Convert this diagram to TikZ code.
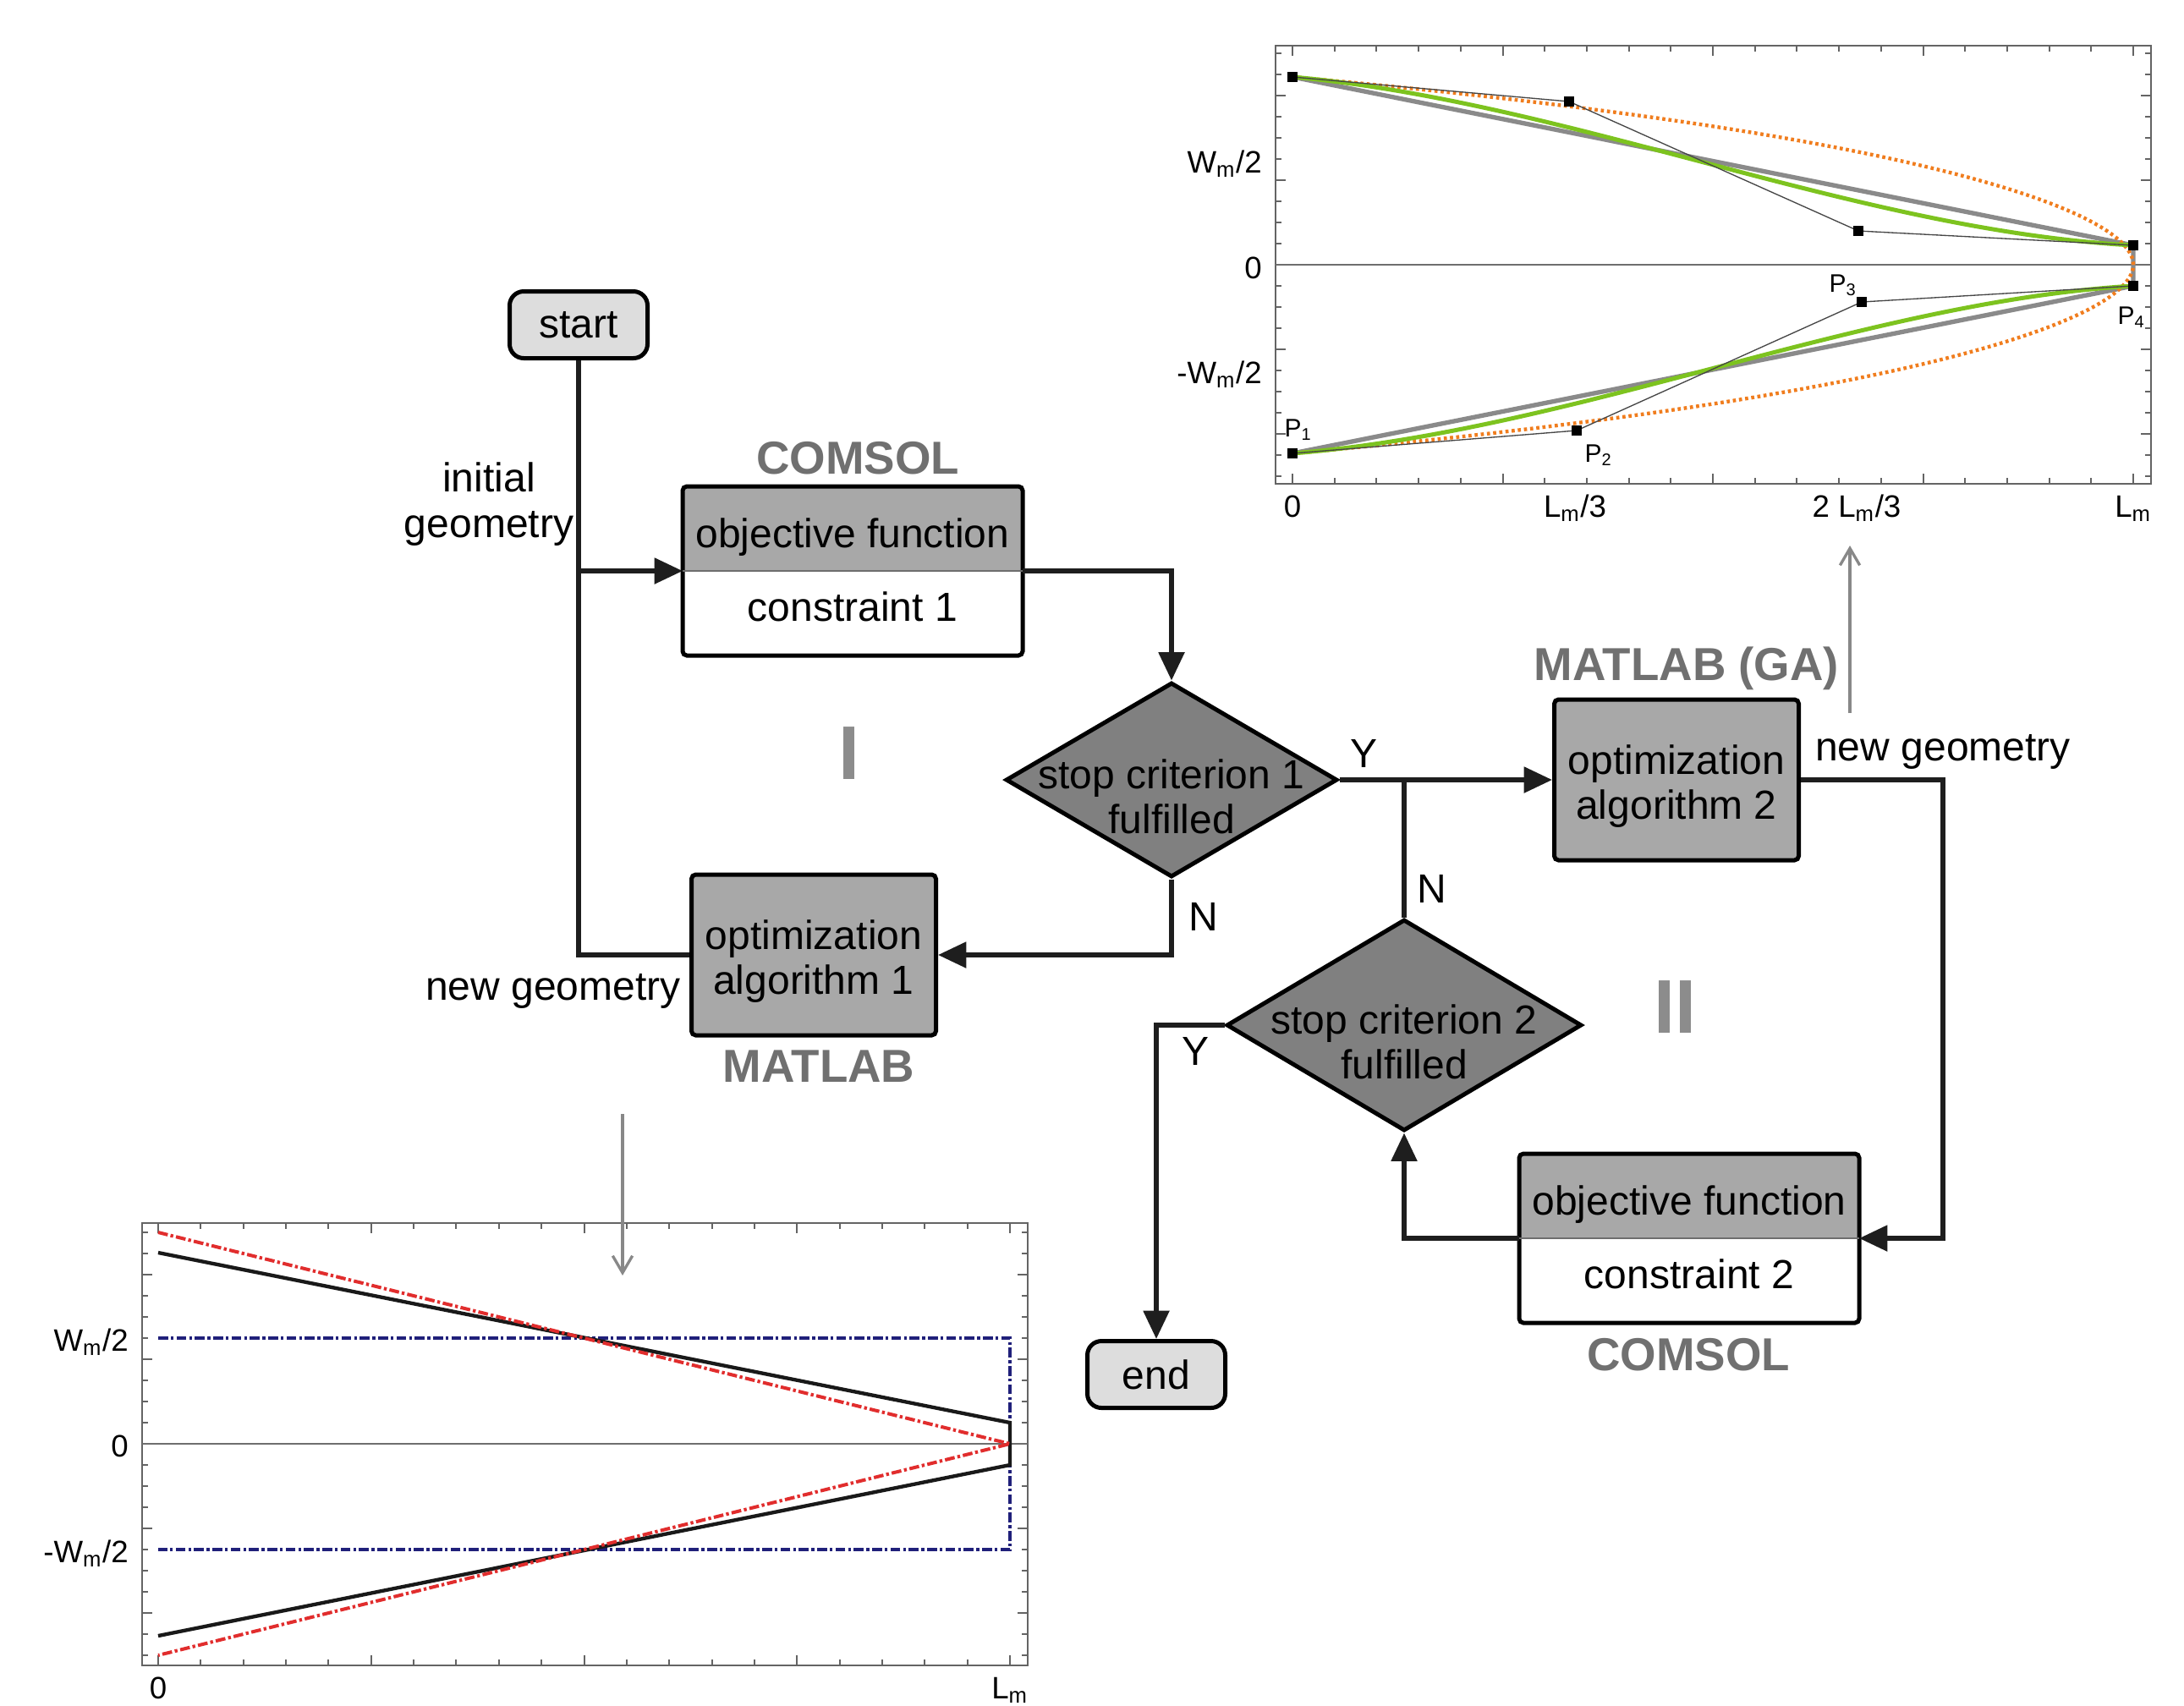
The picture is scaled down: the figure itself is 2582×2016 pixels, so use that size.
\documentclass[tikz,border=0pt]{standalone}
\usepackage{fontspec}
\setmainfont{Liberation Sans}
\usetikzlibrary{arrows.meta,positioning,shapes.geometric}

\tikzset{every picture/.style={line width=0.75pt}}
\tikzset{
  flowtxt/.style={font=\fontsize{14.4}{16}\selectfont},
  flowline/.style={line width=1.6pt, color={rgb,255:red,30;green,30;blue,30}},
  flowarrow/.style={flowline, -{Triangle[length=10pt,width=9pt]}},
  termbox/.style={draw, line width=1.5pt, rounded corners=5pt, fill={rgb,255:red,221;green,221;blue,221}, minimum width=48.9pt, minimum height=23.7pt, flowtxt},
  algbox/.style={draw, line width=1.5pt, rounded corners=1.5pt, fill={rgb,255:red,168;green,168;blue,168}, minimum width=86.7pt, minimum height=57pt, align=center, flowtxt},
  objpart/.style={fill={rgb,255:red,168;green,168;blue,168}, minimum width=120.6pt, minimum height=30pt, inner xsep=2pt, outer sep=0pt, flowtxt},
  conpart/.style={fill=white, minimum width=120.6pt, minimum height=30pt, inner xsep=2pt, outer sep=0pt, flowtxt},
  boxframe/.style={line width=1.5pt, rounded corners=1.5pt},
  splitline/.style={line width=0.4pt, color={rgb,255:red,110;green,110;blue,110}},
  critbox/.style={diamond, draw, line width=1.5pt, fill={rgb,255:red,128;green,128;blue,128}, inner sep=0pt},
  softlbl/.style={font=\bfseries\fontsize{16.4}{18}\selectfont, text={rgb,255:red,112;green,112;blue,112}},
  looplbl/.style={font=\bfseries\fontsize{27}{30}\selectfont, text={rgb,255:red,140;green,140;blue,140}},
  grayarrow/.style={line width=1pt, color={rgb,255:red,136;green,136;blue,136}, -{Straight Barb[length=6pt,width=7pt]}},
  axisframe/.style={line width=0.6pt, color={rgb,255:red,100;green,100;blue,100}},
  zeroline/.style={line width=0.5pt, color={rgb,255:red,110;green,110;blue,110}},
  axlbl/.style={font=\fontsize{11}{13}\selectfont, inner sep=0pt},
  axlblx/.style={font=\fontsize{11}{13}\selectfont, inner sep=0pt, anchor=base},
  ptlbl/.style={font=\fontsize{9}{10}\selectfont, inner sep=0pt},
  ctrlpt/.style={fill=black, minimum size=3.6pt, inner sep=0pt},
}

\begin{document}
\begin{tikzpicture}[x=0.3pt,y=0.3pt,yscale=-1,xscale=1]
\useasboundingbox (0,0) rectangle (2582,2016);

% Terminal Nodes
\node[termbox] (startnode) at (684,384) {start};
\node[termbox] (endnode) at (1367,1625) {end};

% COMSOL block, loop I
\node[objpart] (obj1) at (1008,625) {\rule{0pt}{16.5pt}objective function};
\node[conpart, below=0pt of obj1] (con1) {constraint 1\rule[-4.8pt]{0pt}{4.8pt}};
\draw[boxframe] (obj1.north west) rectangle (con1.south east);
\draw[splitline] (obj1.south west) -- (obj1.south east);

% COMSOL block, loop II
\node[objpart] (obj2) at (1997,1414) {\rule{0pt}{16.5pt}objective function};
\node[conpart, below=0pt of obj2] (con2) {constraint 2\rule[-4.8pt]{0pt}{4.8pt}};
\draw[boxframe] (obj2.north west) rectangle (con2.south east);
\draw[splitline] (obj2.south west) -- (obj2.south east);

% MATLAB blocks
\node[algbox] (opt1) at (962,1129) {\rule{0pt}{15pt}optimization\\algorithm 1};
\node[algbox] (opt2) at (1982,922) {\rule{0pt}{15pt}optimization\\algorithm 2};

% Decisions
\node[critbox, minimum width=117.6pt, minimum height=69pt] (crit1) at (1385,922) {};
\node[flowtxt, align=center] (crit1txt) at (1385,942) {stop criterion 1\\fulfilled};
\node[critbox, minimum width=126pt, minimum height=75pt] (crit2) at (1660,1212) {};
\node[flowtxt, align=center] (crit2txt) at (1660,1232) {stop criterion 2\\fulfilled};

%Straight Lines
\draw[flowline] (startnode.south) |- (opt1.west);
\draw[flowarrow] (startnode.south |- obj1.south west) -- (obj1.south west);
\draw[flowarrow] (obj1.south east) -| (crit1.north);
\draw[flowarrow] (crit1.south) |- (opt1.east);
\draw[flowarrow] (crit1.east) -- (opt2.west);
\draw[flowline] (crit2.north) -- (crit2.north |- crit1.east);
\draw[flowarrow] (opt2.east) -- ++(168,0) |- (obj2.south east);
\draw[flowarrow] (obj2.south west) -| (crit2.south);
\draw[flowarrow] (crit2.west) -| (endnode.north);

% Text Node
\node[flowtxt] (ylbl1) at (1612,891) {Y};
\node[flowtxt] (nlbl1) at (1423,1084) {N};
\node[flowtxt] (nlbl2) at (1693,1051) {N};
\node[flowtxt] (ylbl2) at (1413,1243) {Y};
\node[flowtxt, align=center] (initgeo) at (578,596) {initial\\geometry};
\node[flowtxt] (newgeo1) at (654,1172) {new geometry};
\node[flowtxt] (newgeo2) at (2297,889) {new geometry};
\node[softlbl] (comsol1) at (1014,542) {COMSOL};
\node[softlbl] (matlab1) at (968,1261) {MATLAB};
\node[softlbl] (matlab2) at (1994,790) {MATLAB (GA)};
\node[softlbl] (comsol2) at (1996,1602) {COMSOL};
\node[looplbl] (loop1) at (1004,891) {I};
\node[looplbl] (loop2) at (1980,1191) {II};

% Top plot: frame and ticks
\draw[axisframe] (1508,54) rectangle (2543,572);
\foreach \k in {0,...,20}{
  \pgfmathsetmacro{\tk}{ifthenelse(mod(\k,5)==0,12,7)}
  \draw[axisframe] ({1528+49.7*\k},572) -- ++(0,-\tk) ({1528+49.7*\k},54) -- ++(0,\tk);
}
\foreach \k in {-10,...,10}{
  \pgfmathsetmacro{\tk}{ifthenelse(mod(\k,4)==0,12,7)}
  \draw[axisframe] (1508,{313+25*\k}) -- ++(\tk,0) (2543,{313+25*\k}) -- ++(-\tk,0);
}
\draw[zeroline] (1508,313) -- (2543,313);

% Top plot: curves
\coordinate (u1) at (1528,91);
\coordinate (u2) at (1855,120);
\coordinate (u3) at (2197,273);
\coordinate (u4) at (2522,290);
\coordinate (l1) at (1528,536);
\coordinate (l2) at (1864,509);
\coordinate (l3) at (2201,357);
\coordinate (l4) at (2522,338);
\draw[line width=1.6pt, color={rgb,255:red,138;green,138;blue,138}] (u1) -- (u4) -- (l4) -- (l1);
\draw[line width=1.3pt, color={rgb,255:red,240;green,125;blue,30}, dash pattern=on 1.1pt off 1.1pt] (u1) .. controls (2274,158) and (2522,251) .. (2522,313) .. controls (2522,375) and (2274,469) .. (l1);
\draw[line width=1.5pt, color={rgb,255:red,125;green,195;blue,31}] (u1) .. controls (u2) and (u3) .. (u4);
\draw[line width=1.5pt, color={rgb,255:red,125;green,195;blue,31}] (l1) .. controls (l2) and (l3) .. (l4);
\draw[line width=0.4pt, color={rgb,255:red,70;green,70;blue,70}] (u1) -- (u2) -- (u3) -- (u4);
\draw[line width=0.4pt, color={rgb,255:red,70;green,70;blue,70}] (l1) -- (l2) -- (l3) -- (l4);
\foreach \p in {u1,u2,u3,u4,l1,l2,l3,l4}
  \node[ctrlpt] at (\p) {};

% Top plot: labels
\node[ptlbl] (p1) at (1535,508) {P\textsubscript{1}};
\node[ptlbl] (p2) at (1890,538) {P\textsubscript{2}};
\node[ptlbl] (p3) at (2179,337) {P\textsubscript{3}};
\node[ptlbl] (p4) at (2520,375) {P\textsubscript{4}};
\node[axlbl, anchor=base east] (tyw1) at (1493,204) {W\textsubscript{m}/2};
\node[axlbl, anchor=base east] (ty0) at (1493,329) {0};
\node[axlbl, anchor=base east] (tyw2) at (1493,453) {-W\textsubscript{m}/2};
\node[axlblx] (tx0) at (1528,611) {0};
\node[axlblx] (tx1) at (1862,611) {L\textsubscript{m}/3};
\node[axlblx] (tx2) at (2195,611) {2 L\textsubscript{m}/3};
\node[axlblx] (tx3) at (2522,611) {L\textsubscript{m}};

% Bottom plot: frame and ticks
\draw[axisframe] (168,1446) rectangle (1215,1969);
\foreach \k in {0,...,20}{
  \pgfmathsetmacro{\tk}{ifthenelse(mod(\k,5)==0,12,7)}
  \draw[axisframe] ({187+50.35*\k},1969) -- ++(0,-\tk) ({187+50.35*\k},1446) -- ++(0,\tk);
}
\foreach \k in {-10,...,10}{
  \pgfmathsetmacro{\tk}{ifthenelse(mod(\k,4)==0,12,7)}
  \draw[axisframe] (168,{1707+25*\k}) -- ++(\tk,0) (1215,{1707+25*\k}) -- ++(-\tk,0);
}
\draw[zeroline] (168,1707) -- (1215,1707);

% Bottom plot: curves
\draw[line width=1.2pt, color={rgb,255:red,32;green,32;blue,122}, dash pattern=on 3.5pt off 1pt on 1pt off 1pt] (187,1582) -- (1194,1582) -- (1194,1832) -- (187,1832);
\draw[line width=1.3pt, color={rgb,255:red,25;green,25;blue,25}] (187,1481) -- (1194,1682) -- (1194,1732) -- (187,1934);
\draw[line width=1.2pt, color={rgb,255:red,225;green,45;blue,45}, dash pattern=on 3.5pt off 1pt on 1pt off 1pt] (187,1457) -- (1194,1707) -- (187,1957);

% Bottom plot: labels
\node[axlbl, anchor=base east] (byw1) at (153,1597) {W\textsubscript{m}/2};
\node[axlbl, anchor=base east] (by0) at (153,1722) {0};
\node[axlbl, anchor=base east] (byw2) at (153,1847) {-W\textsubscript{m}/2};
\node[axlbl, anchor=base] (bx0) at (187,2008) {0};
\node[axlbl, anchor=base] (bx1) at (1194,2008) {L\textsubscript{m}};

% Gray arrows to the plots
\coordinate (upfoot) at (2187,843);
\coordinate (uptip) at (2187,645);
\draw[grayarrow] (upfoot) -- (uptip);
\coordinate (downfoot) at (736,1317);
\coordinate (downtip) at (736,1508);
\draw[grayarrow] (downfoot) -- (downtip);

\end{tikzpicture}
\end{document}
